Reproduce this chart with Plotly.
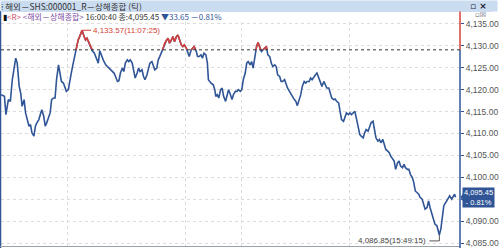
import plotly.graph_objects as go

# ---- data (tick index, price) ----
tick_no = [0,7,10,15,19,23,30,33,37,40,43,47,50,53,57,60,63,67,70,73,77,80,83,87,90,93,100,103,107,110,
           113,117,120,123,127,130,133,137,140,143,147,150,153,157,160,163,165,168,172,175,179,181,185,190,195,198,
           201,205,208,213,220,227,230,233,237,240,243,247,250,253,257,260,263,267,270,273,277,280,283,287,290,293,
           297,300,303,307,310,313,317,320,323,327,330,333,337,340,343,347,350,353,357,360,363,367,370,373,377,380,
           383,387,390,393,397,400,403,407,410,413,417,420,422,427,432,435,437,440,443,447,450,453,457,460,463,467,
           470,473,477,480,483,487,490,493,497,500,503,507,510,513,517,520,523,527,530,533,537,540,543,547,550,553,
           557,560,563,567,570,573,577,580,583,587,590,593,597,600,603,607,610,613,617,620,623,627,630,633,637,640,
           643,647,650,653,657,660,663,667,670,673,677,680,683,687,690,693,697,700,703,707,710,713,717,720,723,727,
           730,733,737,740,743,747,750,753,757,760,763,767,770,773,777,780,783,787,790,793,797,800,803,807,810,813,
           817,820,823,827,830,833,837,840,843,847,850,853,857,860,863,867,870,873,877,880,883,887,890,892,895,897,
           899,901,903,907,910,913,917,920,923,925]
price = [4118.86,4118.47,4114.32,4117.73,4117.34,4122.27,4127.20,4126.07,4120.75,4119.25,4116.20,4117.73,4114.70,
         4113.18,4111.66,4112.04,4110.16,4109.39,4111.66,4112.43,4113.18,4114.32,4115.45,4113.93,4111.66,4112.43,
         4114.70,4117.73,4118.11,4118.11,4122.27,4125.68,4123.79,4121.88,4121.52,4120.75,4119.61,4120.00,4122.27,
         4123.79,4126.07,4127.95,4129.30,4131.36,4132.11,4132.90,4133.57,4132.50,4131.36,4131.75,4130.61,4130.22,
         4129.00,4128.34,4126.81,4126.07,4128.90,4127.56,4126.81,4125.68,4124.93,4124.15,4123.79,4123.02,4121.88,
         4122.04,4123.79,4124.93,4124.15,4126.07,4126.81,4126.43,4126.81,4126.07,4123.79,4122.65,4123.79,4124.93,
         4124.15,4124.54,4123.02,4122.27,4123.40,4124.54,4126.07,4126.43,4125.29,4124.54,4124.93,4126.81,4127.56,
         4128.70,4129.47,4130.61,4131.36,4131.75,4130.61,4131.36,4132.11,4130.97,4132.11,4132.50,4131.36,4130.22,
         4129.84,4130.22,4129.47,4128.70,4127.56,4129.09,4129.47,4129.84,4128.90,4127.56,4127.56,4127.95,4127.20,
         4128.34,4127.95,4126.07,4122.27,4121.52,4121.13,4120.00,4118.47,4118.86,4118.11,4120.00,4120.38,4118.47,
         4117.34,4118.86,4120.00,4118.86,4117.73,4118.86,4119.61,4119.61,4120.00,4119.61,4120.00,4122.27,4123.79,
         4126.07,4126.43,4125.68,4126.43,4124.93,4127.56,4129.84,4130.75,4129.47,4128.70,4129.09,4129.47,4129.84,
         4127.95,4127.56,4126.07,4125.29,4125.68,4125.29,4123.40,4123.02,4121.88,4121.88,4122.27,4121.13,4120.38,
         4119.61,4118.86,4118.47,4117.73,4117.34,4116.36,4117.73,4118.86,4120.75,4121.88,4121.52,4121.88,4121.88,
         4122.65,4122.27,4123.02,4123.40,4123.79,4122.65,4121.52,4120.75,4121.88,4121.13,4120.38,4120.38,4119.25,
         4118.11,4117.73,4117.88,4117.34,4116.97,4115.06,4113.18,4112.79,4113.93,4114.70,4114.32,4114.70,4114.32,
         4114.70,4115.06,4113.56,4111.66,4109.77,4109.39,4109.02,4110.16,4110.90,4110.52,4111.29,4112.43,4112.79,
         4110.90,4109.02,4108.25,4108.63,4107.88,4108.63,4107.50,4106.36,4105.97,4105.61,4104.84,4104.09,4103.70,
         4101.81,4103.34,4103.70,4102.57,4102.20,4102.95,4102.20,4101.81,4101.81,4100.68,4099.93,4098.79,4096.88,
         4096.52,4096.13,4095.38,4095.00,4093.86,4092.72,4093.11,4094.61,4093.11,4091.59,4090.06,4089.31,4088.93,
         4087.79,4086.85,4088.18,4090.45,4092.34,4093.47,4093.86,4094.61,4095.00,4095.75,4095.00,4095.75,4096.13,
         4095.45]

prev_close = 4129.10
last_price = 4095.45
change = -33.65
change_pct = -0.81
high_price, high_time = 4133.57, "11:07:25"
low_price, low_time = 4086.85, "15:49:15"
hour_grid_ticks = [136, 376, 490, 710]
y_ticks = [4085, 4090, 4095, 4100, 4105, 4110, 4115, 4120, 4125, 4130, 4135]

# ---- style ----
BLUE = "#2f5597"
RED = "#d6403a"
BAR = "#cadcef"
Y_RANGE = [4084.32, 4135.45]
X_RANGE = [0, 934]
W, H = 500, 249
ML, MR, MT, MB = 1, 32, 22, 2
PW, PH = W - ML - MR, H - MT - MB

def pxx(x):  # pixel x -> paper
    return (x - ML) / PW

def pxy(y):  # pixel y -> paper
    return 1 - (y - MT) / PH

hi_idx = price.index(high_price)
lo_idx = price.index(low_price)
split = (prev_close - Y_RANGE[0]) / (Y_RANGE[1] - Y_RANGE[0])
# the last-price box covers the nearest tick label, as in the reference
tick_text = ["" if abs(v - last_price) < 2.5 else f"{v:,.2f}" for v in y_ticks]

fig = go.Figure()
fig.add_trace(go.Scatter(x=tick_no, y=price, mode="lines", line=dict(color=BLUE, width=1.6),
                         hoverinfo="skip", showlegend=False))
fig.add_trace(go.Scatter(x=tick_no, y=price, mode="lines", line=dict(color=RED, width=1.6),
                         yaxis="y2", hoverinfo="skip", showlegend=False))

ann = []
shapes = []

# title bar (annotation with background spanning the full width)
ann.append(dict(xref="paper", yref="paper", x=pxx(0), y=pxy(0), xanchor="left", yanchor="top",
                text="⁞ 해외－SHS:000001_R－상해종합 (틱)", showarrow=False, align="left",
                width=W - 4, height=10, bgcolor=BAR, borderpad=0,
                font=dict(family="Noto Sans CJK KR", size=8.5, color="#333")))
shapes.append(dict(type="line", xref="paper", yref="paper", x0=pxx(0), x1=pxx(W), y0=pxy(11), y1=pxy(11),
                   line=dict(color="#a9bcd6", width=1)))
ann.append(dict(xref="paper", yref="paper", x=pxx(497), y=pxy(5.5), xanchor="right", yanchor="middle",
                text="<b>▫ ×</b>", showarrow=False, font=dict(family="DejaVu Sans", size=9, color="#223")))
# info line
info = ("<span style='color:#111'>▮</span><span style='color:#d04a6a'>&lt;R&gt;</span> "
        "<span style='color:#7a4aa0'>&lt;해외－상해종합&gt;</span> "
        f"<span style='color:#333'>16:00:40 종:{last_price:,.2f}</span> "
        f"<span style='color:{BLUE}'>▼{abs(change):.2f}</span> "
        f"<span style='color:{BLUE}'>－{abs(change_pct):.2f}%</span>")
ann.append(dict(xref="paper", yref="paper", x=pxx(1), y=pxy(16), xanchor="left", yanchor="middle",
                text=info, showarrow=False, font=dict(family="Noto Sans CJK KR", size=8)))
ann.append(dict(xref="paper", yref="paper", x=pxx(496), y=pxy(15), xanchor="right", yanchor="middle",
                text="▫☒", showarrow=False, font=dict(family="DejaVu Sans", size=7, color="#667")))

# frame lines
shapes.append(dict(type="line", xref="paper", yref="paper", x0=pxx(0.5), x1=pxx(0.5), y0=pxy(H), y1=pxy(11),
                   line=dict(color=BLUE, width=1.5)))
shapes.append(dict(type="line", xref="paper", yref="paper", x0=pxx(0), x1=pxx(468), y0=pxy(247.5), y1=pxy(247.5),
                   line=dict(color="#9aa0a8", width=1)))
# right axis line: red above prev close, blue below
shapes.append(dict(type="line", xref="paper", yref="paper", x0=1, x1=1, y0=split, y1=pxy(11),
                   line=dict(color=RED, width=1.5)))
shapes.append(dict(type="line", xref="paper", yref="paper", x0=1, x1=1, y0=pxy(H), y1=split,
                   line=dict(color=BLUE, width=1.5)))
# previous close dashed line
shapes.append(dict(type="line", xref="paper", yref="y", x0=0, x1=1, y0=prev_close, y1=prev_close,
                   line=dict(color="#333", width=1, dash="dot")))

# high annotation
ann.append(dict(x=tick_no[hi_idx], y=high_price, ax=9, ay=0, xanchor="left", yanchor="middle",
                text=f"{high_price:,.2f}({high_time})", showarrow=True, arrowhead=0, arrowwidth=1,
                arrowcolor=RED, standoff=0, font=dict(family="Liberation Sans", size=8, color=RED)))
# low annotation
shapes.append(dict(type="path", xref="x", yref="y", xsizemode="pixel", ysizemode="pixel",
                   xanchor=tick_no[lo_idx], yanchor=low_price, path="M0,0 L0,-6 L-10,-6",
                   line=dict(color="#555", width=1)))
ann.append(dict(x=tick_no[lo_idx], y=low_price, xshift=-11, yshift=-6, xanchor="right", yanchor="middle",
                text=f"{low_price:,.2f}({low_time})", showarrow=False,
                font=dict(family="Liberation Sans", size=8, color="#444")))

# last price box
ann.append(dict(xref="paper", yref="y", x=1, y=last_price, xshift=2, xanchor="left", yanchor="middle",
                text=f"{last_price:,.2f}<br>- {abs(change_pct):.2f}%", showarrow=False, align="center",
                bgcolor=BLUE, borderpad=0, width=31,
                font=dict(family="Liberation Sans Narrow, Liberation Sans", size=7.5, color="white")))
shapes.append(dict(type="path", xref="paper", yref="y", ysizemode="pixel", yanchor=last_price,
                   path=f"M{1 + 0.5/PW},0 L{1 + 3/PW},4 L{1 + 3/PW},-4 Z",
                   fillcolor=BLUE, line=dict(width=0)))

fig.update_layout(
    width=W, height=H, margin=dict(l=ML, r=MR, t=MT, b=MB),
    paper_bgcolor="white", plot_bgcolor="rgba(0,0,0,0)",
    xaxis=dict(range=X_RANGE, tickvals=hour_grid_ticks, showticklabels=False, ticks="",
               showgrid=True, gridcolor="#dcdcdc", griddash="dot", gridwidth=1, zeroline=False,
               showline=False, fixedrange=True),
    yaxis=dict(range=Y_RANGE, side="right", tickvals=y_ticks, ticktext=tick_text,
               ticks="outside", ticklen=3, tickcolor=BLUE, ticklabelstandoff=0,
               tickfont=dict(family="Liberation Sans Narrow, Liberation Sans", size=8.5, color="#555"),
               showgrid=True, gridcolor="#dcdcdc", griddash="dot", gridwidth=1, zeroline=False,
               showline=False, fixedrange=True),
    yaxis2=dict(domain=[split, 1], range=[prev_close, Y_RANGE[1]], anchor="x", visible=False,
                showgrid=False, fixedrange=True),
    annotations=ann, shapes=shapes, showlegend=False,
)
fig.write_html("out.html")
